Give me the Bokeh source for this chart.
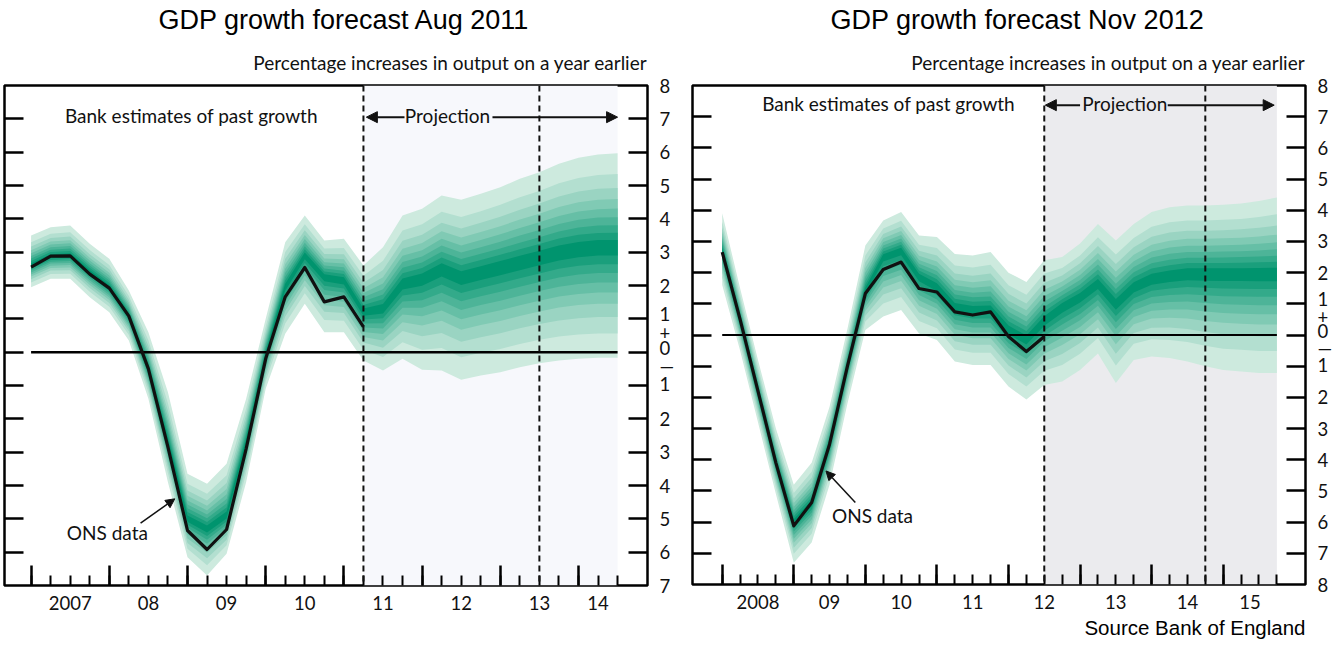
import numpy as np
from bokeh.plotting import figure
from bokeh.models import (Range1d, LinearAxis, FixedTicker, Span, BoxAnnotation,
                          Arrow, NormalHead, Label, Title)
from bokeh.layouts import row
from bokeh.embed import file_html
from bokeh.resources import INLINE

# ---------------------------------------------------------------------------
# Data: quarters are counted from Q1 of the first year shown (0 = Q1)
# ---------------------------------------------------------------------------

# August 2011 Inflation Report, first quarter = 2007 Q1
aug_quarters = list(range(31))
aug_ons = [2.55, 2.88, 2.89, 2.34, 1.92, 1.08, -0.5, -2.85, -5.35, -5.92,
           -5.32, -2.9, -0.2, 1.66, 2.54, 1.51, 1.66, 0.76]
aug_mid = [2.6, 2.87, 2.9, 2.4, 1.95, 1.1, -0.5, -2.7, -5.0, -5.3, -4.9, -2.7,
           -0.1, 1.95, 2.9, 2.25, 2.15, 1.2, 1.3, 2.05, 2.2, 2.5, 2.25, 2.4,
           2.55, 2.7, 2.85, 3.0, 3.1, 3.15, 3.15]
aug_hi = [3.5, 3.75, 3.8, 3.25, 2.8, 1.85, 0.6, -1.2, -3.65, -3.95, -3.35,
          -1.4, 1.0, 3.3, 4.1, 3.35, 3.4, 2.6, 3.15, 4.1, 4.3, 4.7, 4.57,
          4.75, 4.95, 5.2, 5.4, 5.65, 5.83, 5.93, 5.97]
aug_lo = [1.95, 2.2, 2.2, 1.65, 1.2, 0.35, -1.4, -3.9, -6.15, -6.7, -6.05,
          -3.9, -1.1, 0.55, 1.45, 0.6, 0.6, -0.25, -0.55, -0.2, -0.53, -0.55,
          -0.83, -0.7, -0.6, -0.45, -0.33, -0.25, -0.2, -0.17, -0.17]
aug_dashes = [17, 26]
aug_year_ticks = [0, 4, 8, 12, 16, 20, 24, 28]
aug_year_pos = [2, 6, 10, 14, 18, 22, 26, 29]
aug_year_labels = ["2007", "08", "09", "10", "11", "12", "13", "14"]

# November 2012 Inflation Report, first quarter = 2008 Q1
nov_quarters = list(range(32))
nov_ons = [2.66, 0.5, -1.8, -4.1, -6.12, -5.37, -3.5, -1.0, 1.33, 2.1, 2.34,
           1.49, 1.38, 0.74, 0.64, 0.74, -0.05, -0.53, -0.05]
nov_mid = [2.7, 0.5, -1.8, -4.1, -6.0, -5.4, -3.5, -1.0, 1.4, 2.5, 2.7, 1.86,
           1.54, 0.9, 0.8, 0.8, 0.16, -0.16, 0.45, 0.9, 1.22, 1.65, 1.0, 1.54,
           1.8, 1.9, 1.97, 1.97, 1.97, 1.97, 1.97, 1.97]
nov_hi = [3.9, 1.5, -0.8, -3.0, -4.8, -4.1, -2.3, 0.2, 2.87, 3.67, 3.94, 3.19,
          3.14, 2.6, 2.55, 2.66, 2.0, 1.7, 2.4, 2.5, 2.93, 3.56, 3.03, 3.56,
          3.94, 4.1, 4.15, 4.15, 4.18, 4.22, 4.3, 4.41]
nov_lo = [1.6, -0.5, -2.8, -5.1, -7.3, -6.65, -4.8, -2.2, 0.16, 0.59, 0.8,
          0.05, -0.16, -0.85, -0.96, -0.96, -1.65, -2.07, -1.6, -1.49, -1.12,
          -0.59, -1.54, -0.8, -0.69, -0.74, -0.85, -1.0, -1.12, -1.17, -1.22,
          -1.22]
nov_dashes = [18, 27]
nov_year_ticks = [0, 4, 8, 12, 16, 20, 24, 28]
nov_year_pos = [2, 6, 10, 14, 18, 22, 26, 29.5]
nov_year_labels = ["2008", "09", "10", "11", "12", "13", "14", "15"]

SUBTITLE = "Percentage increases in output on a year earlier"

# Share of the 90% half-width covered by the 10%, 20%, ... 90% bands
# (normal quantiles divided by the 90% quantile)
band_z = [0.1257, 0.2533, 0.3853, 0.5244, 0.6745, 0.8416, 1.0364, 1.2816, 1.6449]

LIGHT = np.array([205, 234, 222])
DARK = np.array([0, 148, 110])

LABEL_FONT = "Lato"
TITLE_FONT = "Liberation Sans"
INK = "#111111"


def shade(t):
    c = LIGHT + (DARK - LIGHT) * t
    return "#%02x%02x%02x" % tuple(int(round(v)) for v in c)


def y_labels(top, bottom):
    """Right-hand scale: positive numbers above zero, unsigned numbers below."""
    pos, txt = [], []
    for v in range(top, 1, -1):
        pos.append(float(v)); txt.append(str(v))
    pos += [1.15, 0.58, 0.12, -0.42]
    txt += ["1", "+", "0", "\u2014"]
    pos.append(-0.95); txt.append("1")
    for v in range(2, -bottom + 1):
        pos.append(float(-v)); txt.append(str(v))
    return pos, txt


def panel(quarters, ons, mid, hi, lo, dashes, year_ticks, year_pos, year_labels,
          x_rng, y_rng, frame_w, frame_h, borders, shade_fill, title, title_x,
          ann, zero_width):
    bl, br, bt, bb = borders
    p = figure(frame_width=frame_w, frame_height=frame_h,
               x_range=Range1d(*x_rng), y_range=Range1d(*y_rng),
               x_axis_type=None, y_axis_type=None,
               output_backend="svg", toolbar_location=None,
               min_border_left=bl, min_border_right=br,
               min_border_top=bt, min_border_bottom=bb)
    p.outline_line_color = "black"
    p.outline_line_width = 2.5
    p.outline_line_alpha = 1.0
    p.background_fill_color = "white"
    p.border_fill_color = "white"

    # projection period background
    p.add_layout(BoxAnnotation(left=dashes[0], right=quarters[-1],
                               fill_color=shade_fill, fill_alpha=1.0,
                               line_color=None, level="underlay"))

    # fan: outer (lightest) band first, darkest central band last
    q = np.array(quarters, dtype=float)
    m, h, l = np.array(mid), np.array(hi), np.array(lo)
    n = len(band_z)
    for k in range(n - 1, -1, -1):
        r = band_z[k] / band_z[-1]
        p.varea(x=q, y1=m - (m - l) * r, y2=m + (h - m) * r,
                fill_color=shade((n - 1 - k) / (n - 1)), fill_alpha=1.0)

    # zero line and outturns
    p.line([quarters[0], quarters[-1]], [0, 0], line_color="black",
           line_width=zero_width)
    p.line(quarters[:len(ons)], ons, line_color=INK, line_width=3.2,
           line_join="round")

    for d in dashes:
        p.add_layout(Span(location=d, dimension="height", line_color=INK,
                          line_width=2, line_dash="6 4"))

    ints = list(range(int(y_rng[0]) + 1, int(y_rng[1])))
    common = dict(axis_line_color=None, major_tick_in=0, major_tick_out=0,
                  major_tick_line_color=None, minor_tick_out=0,
                  minor_tick_line_color="black")

    # left spine ticks (no labels)
    p.add_layout(LinearAxis(ticker=FixedTicker(ticks=[], minor_ticks=ints),
                            minor_tick_in=19, minor_tick_line_width=2.5,
                            major_label_standoff=0, **common), "left")

    # right spine ticks with the value labels
    lp, lt = y_labels(int(y_rng[1]), int(y_rng[0]))
    p.add_layout(LinearAxis(ticker=FixedTicker(ticks=lp, minor_ticks=ints),
                            minor_tick_in=19, minor_tick_line_width=2.5,
                            major_label_overrides=dict(zip(lp, lt)),
                            major_label_standoff=12,
                            major_label_text_font=LABEL_FONT,
                            major_label_text_font_size="18.5px",
                            major_label_text_color=INK, **common), "right")

    # bottom: tall year ticks next to the frame, then quarter ticks and labels
    p.add_layout(LinearAxis(ticker=FixedTicker(ticks=[], minor_ticks=year_ticks),
                            minor_tick_in=20, minor_tick_line_width=2.5,
                            major_label_standoff=0, **common), "below")
    p.add_layout(LinearAxis(ticker=FixedTicker(ticks=year_pos, minor_ticks=quarters),
                            minor_tick_in=10, minor_tick_line_width=2,
                            major_label_overrides=dict(zip(year_pos, year_labels)),
                            major_label_standoff=10,
                            major_label_text_font=LABEL_FONT,
                            major_label_text_font_size="18.5px",
                            major_label_text_color=INK, **common), "below")

    # headings (the one added first sits next to the frame)
    p.add_layout(Title(text=SUBTITLE, align="right", offset=0,
                       text_font=LABEL_FONT, text_font_size="19px",
                       text_font_style="normal", text_color=INK,
                       standoff=24), "above")
    p.add_layout(Title(text=title, align="left", offset=title_x,
                       text_font=TITLE_FONT, text_font_size="27px",
                       text_font_style="normal", text_color="black",
                       standoff=4), "above")

    # annotations inside the frame
    tx = dict(text_font=LABEL_FONT, text_font_size="19px", text_color=INK,
              text_align="center", text_baseline="middle")
    p.add_layout(Label(x=ann["bank"][0], y=ann["bank"][1],
                       text="Bank estimates of past growth", **tx))
    p.add_layout(Label(x=ann["proj"][0], y=ann["proj"][1], text="Projection", **tx))
    p.add_layout(Label(x=ann["ons"][0], y=ann["ons"][1], text="ONS data", **tx))
    for (x0, x1) in ann["proj_arrows"]:
        p.add_layout(Arrow(x_start=x0, y_start=ann["proj"][1] - 0.05,
                           x_end=x1, y_end=ann["proj"][1] - 0.05,
                           line_width=2, line_color=INK,
                           end=NormalHead(size=11, fill_color=INK,
                                          line_color=INK)))
    (ax0, ay0), (ax1, ay1) = ann["ons_arrow"]
    p.add_layout(Arrow(x_start=ax0, y_start=ay0, x_end=ax1, y_end=ay1,
                       line_width=1.5, line_color=INK,
                       end=NormalHead(size=9, fill_color=INK, line_color=INK)))
    return p


left = panel(aug_quarters, aug_ons, aug_mid, aug_hi, aug_lo, aug_dashes,
             aug_year_ticks, aug_year_pos, aug_year_labels,
             x_rng=(-1.36, 31.53), y_rng=(-7, 8), frame_w=643, frame_h=500,
             borders=(4, 33, 85, 60), shade_fill="#f7f8fc",
             title="GDP growth forecast Aug 2011", title_x=154,
             ann=dict(bank=(8.2, 7.1), proj=(21.3, 7.1), ons=(3.9, -5.4),
                      proj_arrows=[(19.1, 17.15), (23.6, 30.0)],
                      ons_arrow=((5.6, -5.13), (7.35, -4.4))),
             zero_width=2.5)

right = panel(nov_quarters, nov_ons, nov_mid, nov_hi, nov_lo, nov_dashes,
              nov_year_ticks, nov_year_pos, nov_year_labels,
              x_rng=(-1.66, 32.6), y_rng=(-8, 8), frame_w=613, frame_h=499,
              borders=(12, 37, 85, 61), shade_fill="#ebebee",
              title="GDP growth forecast Nov 2012", title_x=138,
              ann=dict(bank=(9.3, 7.42), proj=(22.5, 7.42), ons=(8.4, -5.79),
                       proj_arrows=[(20.0, 18.06), (24.9, 30.85)],
                       ons_arrow=((7.44, -5.37), (5.8, -4.36))),
              zero_width=2)
right.add_layout(Title(text="Source Bank of England", align="right", offset=0,
                       text_font=TITLE_FONT, text_font_size="20.5px",
                       text_font_style="normal", text_color="black",
                       standoff=4), "below")

layout = row(left, right, spacing=0)
open("out.html", "w").write(file_html(layout, INLINE))
